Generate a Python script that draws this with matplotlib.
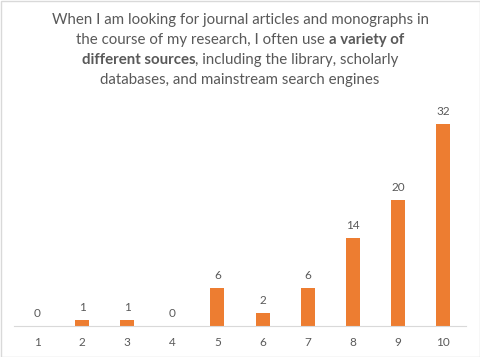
import matplotlib.pyplot as plt
import numpy as np
from matplotlib.patches import Rectangle

categories = ['1', '2', '3', '4', '5', '6', '7', '8', '9', '10']
counts = [0, 1, 1, 0, 6, 2, 6, 14, 20, 32]

title_lines = [
    [("When I am looking for journal articles and monographs in", False)],
    [("the course of my research, I often use ", False), ("a variety of", True)],
    [("different sources", True), (", including the library, scholarly", False)],
    [("databases, and mainstream search engines", False)],
]

grey = '#595959'
orange = '#ED7D31'

plt.rcParams['font.family'] = ['Lato', 'DejaVu Sans']

fig = plt.figure(figsize=(4.8, 3.57), dpi=100)
ax = fig.add_axes([14.5 / 480, 31 / 357, 451 / 480, 221 / 357])

x = np.arange(len(categories))
bars = ax.bar(x, counts, width=0.31, color=orange)
for xi, v in zip(x, counts):
    ax.annotate(str(v), (xi, v), xytext=(0, 5), textcoords='offset points',
                ha='center', va='bottom', fontsize=8.5, color=grey)

ax.set_xlim(-0.5, len(categories) - 0.5)
ax.set_ylim(0, 35)
ax.set_xticks(x, categories)
ax.tick_params(axis='x', length=0, pad=8, labelsize=8.5, labelcolor=grey)
ax.set_yticks([])
for s in ['top', 'right', 'left']:
    ax.spines[s].set_visible(False)
ax.spines['bottom'].set_color('#D9D9D9')
ax.spines['bottom'].set_linewidth(0.8)

# title with bold pieces, centred line by line
fig.canvas.draw()
renderer = fig.canvas.get_renderer()
fs = 10.8
for i, segs in enumerate(title_lines):
    y = 1 - (20 + 20 * i) / 357
    texts = []
    widths = []
    for s, b in segs:
        t = fig.text(0, y, s, fontsize=fs, color=grey, va='center', ha='left',
                     fontweight='bold' if b else 'normal')
        w = t.get_window_extent(renderer).width
        texts.append(t)
        widths.append(w)
    total = sum(widths)
    start = 240 - total / 2
    for t, w in zip(texts, widths):
        t.set_x(start / 480)
        start += w

fig.patches.append(Rectangle((0.5 / 480, 0.5 / 357), 479 / 480, 356 / 357,
                             transform=fig.transFigure, fill=False,
                             edgecolor='#D9D9D9', linewidth=1))

fig.savefig('out.png', dpi=100)
